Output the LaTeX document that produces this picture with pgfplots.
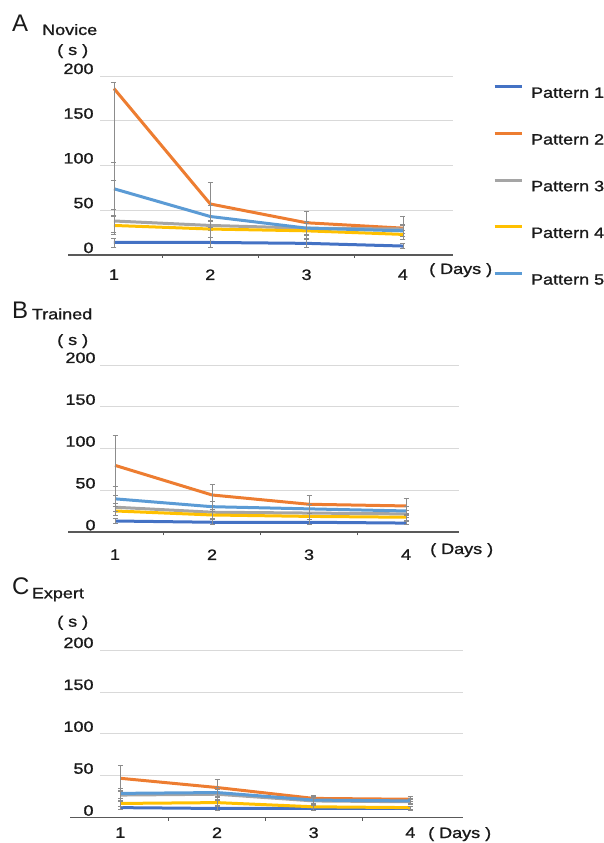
\documentclass[border=0pt]{standalone}
\usepackage{fontspec}
\setmainfont{Liberation Sans}[FakeStretch=1.2, FakeBold=1.2]
\newfontfamily\letterfont{Liberation Sans}
\usepackage{pgfplots}
\pgfplotsset{compat=1.18}

\definecolor{pone}{HTML}{4472C4}
\definecolor{ptwo}{HTML}{ED7D31}
\definecolor{pthree}{HTML}{A5A5A5}
\definecolor{pfour}{HTML}{FFC000}
\definecolor{pfive}{HTML}{5B9BD5}
\definecolor{gridc}{HTML}{D9D9D9}
\definecolor{axc}{HTML}{595959}
\definecolor{txt}{HTML}{1A1A1A}
\definecolor{errc}{HTML}{8C8C8C}

\newcommand{\tf}{\fontsize{15}{15}\selectfont}

\pgfplotsset{
  panel/.style={
    scale only axis,
    anchor=south west,
    axis x line*=bottom, axis y line*=left,
    y axis line style={draw=none},
    ymin=0, ymax=200,
    ytick={0,50,100,150,200},
    xtick={1,2,3,4},
    minor xtick={1.5,2.5,3.5},
    major x tick style={draw=none},
    minor x tick style={axc, line width=0.6pt},
    minor tick length=3pt,
    tick align=outside,
    major y tick style={draw=none},
    ymajorgrids,
    grid style={gridc, line width=0.8pt},
    /pgf/number format/assume math mode=true,
    ticklabel style={font=\tf, text=txt, inner sep=0pt},
    yticklabel style={anchor=base east, yshift=2pt},
    xticklabel style={anchor=north},
    clip=false,
  },
  ser/.style={line width=3pt,
    error bars/.cd, y dir=both, y explicit,
    error bar style={errc, line width=0.7pt},
    error mark options={rotate=90, mark size=2.5pt, errc, line width=0.7pt}},
}

\begin{document}
\begin{tikzpicture}
\useasboundingbox (0pt,0pt) rectangle (603pt,843pt);

% ---------------- A: Novice ----------------
\begin{axis}[panel,
  at={(100pt,588pt)}, width=353pt, height=179pt,
  xmin=0.855, xmax=4.52,
  x axis line style={axc, line width=1.6pt, -, shorten <=-32pt},
  xticklabel style={yshift=-10pt},
  yticklabel style={xshift=-2pt},
  legend style={at={(1.113,0.949)}, anchor=north west, draw=none, fill=none,
    inner sep=0pt, row sep=34.2pt, column sep=8pt,
    nodes={inner sep=0pt, text height=11pt, text depth=0pt, font=\tf, text=txt}},
  legend cell align=left,
  legend image code/.code={\draw[#1, line width=3pt] (0pt,5.5pt) -- (27pt,5.5pt);},
]
\addplot[pone, ser] coordinates {(1,14) +- (0,5) (2,14) +- (0,6) (3,13) +- (0,4) (4,10) +- (0,3)};
\addlegendentry{Pattern 1}
\addplot[ptwo, ser] coordinates {(1,186) += (0,7) -= (0,103) (2,57) +- (0,24) (3,36) +- (0,13) (4,30) +- (0,13)};
\addlegendentry{Pattern 2}
\addplot[pthree, ser] coordinates {(1,38) +- (0,13) (2,33) +- (0,6) (3,30) +- (0,8) (4,29) +- (0,5)};
\addlegendentry{Pattern 3}
\addplot[pfour, ser] coordinates {(1,33) +- (0,10) (2,29) +- (0,9) (3,27) +- (0,8) (4,23) +- (0,5)};
\addlegendentry{Pattern 4}
\addplot[pfive, ser] coordinates {(1,74) +- (0,30) (2,43) +- (0,12) (3,30) +- (0,8) (4,27) +- (0,6)};
\addlegendentry{Pattern 5}
\end{axis}

% ---------------- B: Trained ----------------
\begin{axis}[panel,
  at={(100pt,310.7pt)}, width=359.4pt, height=167.3pt,
  xmin=0.845, xmax=4.55,
  x axis line style={axc, line width=1.6pt, -, shorten <=-32pt},
  xticklabel style={yshift=-12.7pt},
]
\addplot[pone, ser] coordinates {(1,13.5) +- (0,3) (2,12) +- (0,3) (3,12) +- (0,3) (4,11) +- (0,2)};
\addplot[ptwo, ser] coordinates {(1,80) +- (0,36) (2,44.6) +- (0,12.5) (3,33.5) +- (0,11) (4,31.5) +- (0,9)};
\addplot[pthree, ser] coordinates {(1,30) +- (0,5) (2,24) +- (0,4) (3,23) +- (0,4) (4,22) +- (0,4)};
\addplot[pfour, ser] coordinates {(1,25.5) +- (0,5) (2,20.7) +- (0,4) (3,19) +- (0,4) (4,18) +- (0,4)};
\addplot[pfive, ser] coordinates {(1,40) +- (0,15) (2,30.6) +- (0,6) (3,28) +- (0,5) (4,25.5) +- (0,5)};
\end{axis}

% ---------------- C: Expert ----------------
\begin{axis}[panel,
  at={(100pt,25.3pt)}, width=362.6pt, height=167.7pt,
  xmin=0.79, xmax=4.54,
  x axis line style={axc, line width=1.6pt, -, shorten <=-30pt},
  xticklabel style={yshift=-5.3pt},
  yticklabel style={xshift=-2pt},
]
\addplot[pone, ser] coordinates {(1,12) +- (0,2) (2,11) +- (0,2) (3,11) +- (0,2) (4,11) +- (0,2)};
\addplot[ptwo, ser] coordinates {(1,47) +- (0,16) (2,36) +- (0,10) (3,23) +- (0,4) (4,22) +- (0,3)};
\addplot[pthree, ser] coordinates {(1,27) +- (0,6) (2,28) +- (0,6) (3,20) +- (0,4) (4,19) +- (0,3)};
\addplot[pfour, ser] coordinates {(1,17) +- (0,3) (2,18) +- (0,3) (3,13) +- (0,2) (4,12) +- (0,2)};
\addplot[pfive, ser] coordinates {(1,29) +- (0,6) (2,30) +- (0,6) (3,21) +- (0,4) (4,20) +- (0,3)};
\end{axis}

% ---------------- titles and unit labels ----------------
\begin{scope}[every node/.style={anchor=base west, inner sep=0pt, text=txt}]
\node at (12pt,811.3pt) {\letterfont\fontsize{24}{24}\selectfont A};
\node at (42pt,808pt) {\tf Novice};
\node at (57pt,788pt) {\tf ( s )};
\node at (429pt,569pt) {\tf ( Days )};

\node at (12pt,524.7pt) {\letterfont\fontsize{24}{24}\selectfont B};
\node at (31.7pt,523.7pt) {\tf Trained};
\node at (57pt,498pt) {\tf ( s )};
\node at (430pt,289pt) {\tf ( Days )};

\node at (12pt,248pt) {\letterfont\fontsize{24}{24}\selectfont C};
\node at (31.7pt,244.7pt) {\tf Expert};
\node at (57pt,216.3pt) {\tf ( s )};
\node at (428pt,5pt) {\tf ( Days )};
\end{scope}
\end{tikzpicture}
\end{document}
